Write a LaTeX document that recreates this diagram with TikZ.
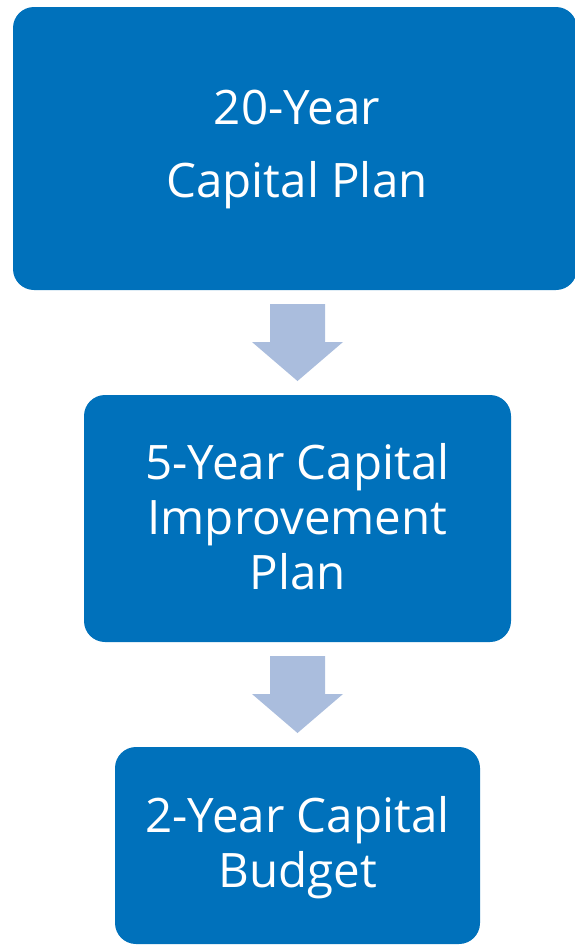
\documentclass[tikz,border=0pt]{standalone}
\usepackage{fontspec}
\setmainfont{Open Sans}
\definecolor{boxblue}{RGB}{0,113,187}
\definecolor{arrowblue}{RGB}{170,189,221}
\tikzset{
  stagebox/.style={fill=boxblue, draw=none, rounded corners=21pt, inner sep=0pt},
  stagetext/.style={text=white, align=center, font=\fontsize{47.5}{55}\selectfont},
  blockarrow/.style={fill=arrowblue, draw=none}
}
\begin{document}
\begin{tikzpicture}[x=1pt,y=-1pt]
\useasboundingbox (0,0) rectangle (575,945);
% boxes
\path[stagebox] (13,7) rectangle (577,290);
\path[stagebox] (84,395) rectangle (511,642);
\path[stagebox] (115,747) rectangle (480,944);
\node[stagetext, font=\fontsize{47.5}{73}\selectfont] (b1) at (297,149.5) {20-Year\\Capital Plan};
\node[stagetext] (b2) at (297.5,516.5) {5-Year Capital\\Improvement\\Plan};
\node[stagetext] (b3) at (297.5,847.5) {2-Year Capital\\Budget};
% arrows
\coordinate (a1) at (297.5,304);
\coordinate (a2) at (297.5,656);
\foreach \c in {a1,a2}{
  \path[blockarrow] ([xshift=-27.5pt]\c) -- ([xshift=27.5pt]\c) -- ([xshift=27.5pt,yshift=-38pt]\c)
    -- ([xshift=45.5pt,yshift=-38pt]\c) -- ([yshift=-77pt]\c) -- ([xshift=-45.5pt,yshift=-38pt]\c)
    -- ([xshift=-27.5pt,yshift=-38pt]\c) -- cycle;
}
\end{tikzpicture}
\end{document}
